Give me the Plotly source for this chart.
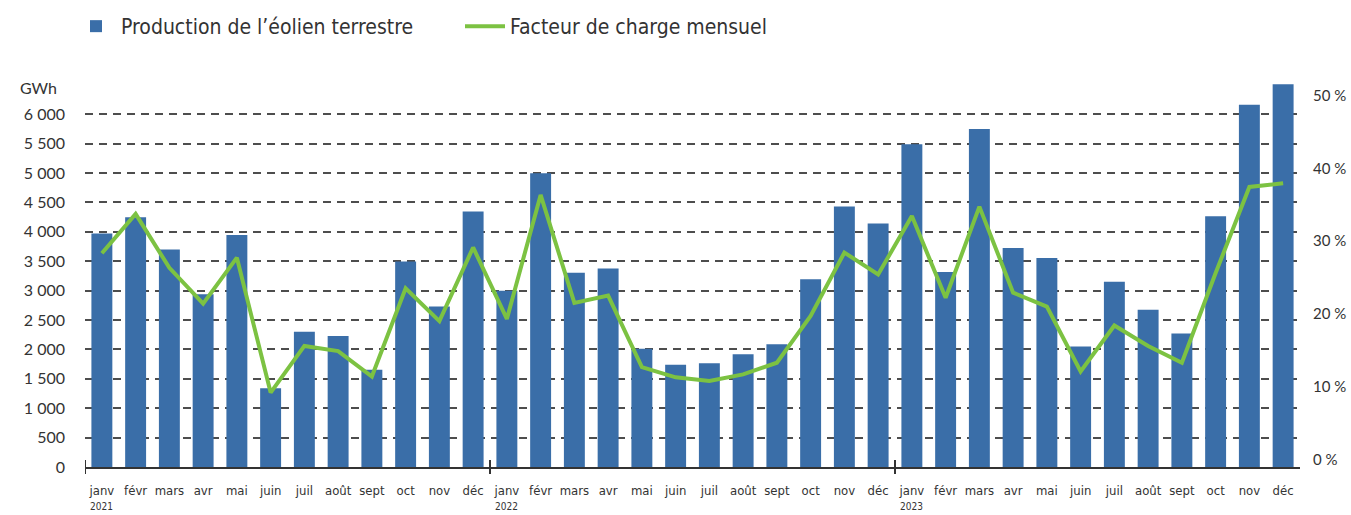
import plotly.graph_objects as go

months = ["janv", "févr", "mars", "avr", "mai", "juin", "juil", "août", "sept", "oct", "nov", "déc"]
years = ["2021", "2022", "2023"]
categories = [m for _ in years for m in months]

production_gwh = [3970, 4250, 3700, 2940, 3945, 1340, 2300, 2230, 1655, 3495, 2730, 4345,
                  3000, 4995, 3305, 3375, 2010, 1740, 1765, 1920, 2090, 3195, 4430, 4140,
                  5490, 3315, 5750, 3725, 3555, 2050, 3150, 2675, 2270, 4265, 6160, 6510]
facteur_charge = [29.3, 34.7, 27.3, 22.4, 28.7, 10.2, 16.6, 15.9, 12.4, 24.5, 20.0, 30.1,
                  20.3, 37.3, 22.5, 23.5, 13.7, 12.3, 11.8, 12.7, 14.3, 20.7, 29.4, 26.4,
                  34.4, 23.2, 35.7, 23.9, 22.0, 13.1, 19.4, 16.6, 14.3, 26.6, 38.4, 38.9]

left_ticks = [0, 500, 1000, 1500, 2000, 2500, 3000, 3500, 4000, 4500, 5000, 5500, 6000]
right_ticks = [0, 10, 20, 30, 40, 50]
right_labels = [f"{v} %" for v in right_ticks]

x_idx = list(range(len(categories)))

BLUE = "#3a6ea8"
GREEN = "#7cc242"
DARK = "#333333"
NARROW = "DejaVu Sans Condensed, Liberation Sans Narrow, Arial Narrow, Liberation Sans, sans-serif"
HUMAN = "Lato, Open Sans, sans-serif"

fig = go.Figure()
fig.add_trace(go.Bar(x=x_idx, y=production_gwh, name="Production de l’éolien terrestre",
                     marker=dict(color=BLUE, line=dict(width=0))))
fig.add_trace(go.Scatter(x=x_idx, y=facteur_charge, name="Facteur de charge mensuel",
                         mode="lines", line=dict(color=GREEN, width=4), yaxis="y2"))

fig.update_layout(
    width=1351, height=515,
    margin=dict(l=85, r=51, t=79, b=47.5, autoexpand=False),
    plot_bgcolor="white", paper_bgcolor="white",
    separators=", ",
    bargap=0.38,
    font=dict(family=HUMAN, color=DARK),
    xaxis=dict(
        range=[-0.5, 35.5], tickvals=x_idx, ticktext=categories,
        showgrid=False, ticks="", ticklabelstandoff=10, automargin=False,
        tickfont=dict(family=NARROW, size=13, color=DARK),
        showline=True, linecolor=DARK, linewidth=2, zeroline=False,
    ),
    yaxis=dict(
        range=[0, 6600], tickvals=left_ticks, tickformat=",d",
        showgrid=True, gridcolor="#4d4d4d", gridwidth=1.5, griddash="8px,6px",
        zeroline=False, ticks="", ticklabelstandoff=19, automargin=False,
        tickfont=dict(family=HUMAN, size=16, color=DARK),
    ),
    yaxis2=dict(
        range=[0, 53.2], tickvals=right_ticks, ticktext=right_labels,
        overlaying="y", side="right", showgrid=False, zeroline=False,
        ticks="", ticklabelstandoff=12, ticklabelshift=-7, automargin=False,
        tickfont=dict(family=HUMAN, size=15, color=DARK),
    ),
    showlegend=True,
    legend=dict(orientation="h", xref="container", yref="container",
                x=71 / 1351, xanchor="left", y=1 - 6 / 515, yanchor="top",
                font=dict(family=NARROW, size=21, color=DARK),
                itemwidth=40, entrywidth=334, bgcolor="rgba(0,0,0,0)"),
)

# GWh unit label
fig.add_annotation(text="GWh", xref="paper", yref="paper", x=(38 - 85) / 1215, y=(467.5 - 88) / 388.5,
                   xanchor="center", yanchor="middle", showarrow=False,
                   font=dict(family=HUMAN, size=16, color=DARK))

# year labels
for i, yr in enumerate(years):
    fig.add_annotation(text=yr, x=12 * i, xref="x", y=0, yref="paper", yshift=-39,
                       xanchor="center", yanchor="middle", showarrow=False,
                       font=dict(family=NARROW, size=10, color=DARK))

# year separators (tick marks across baseline)
for pos in [-0.5, 11.5, 23.5]:
    fig.add_shape(type="line", xref="x", yref="paper", x0=pos, x1=pos,
                  ysizemode="pixel", yanchor=0, y0=-7, y1=7,
                  line=dict(color=DARK, width=2))

fig.write_html("out.html", config={"displayModeBar": False},
               post_script="document.body.style.margin='0px';")
